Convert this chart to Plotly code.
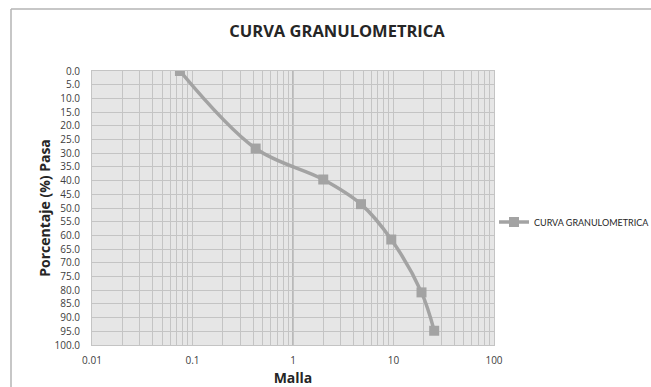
import plotly.graph_objects as go

malla = [0.075, 0.425, 2.0, 4.75, 9.5, 19.0, 25.4]
pasa = [0.0, 28.3, 39.6, 48.6, 61.5, 80.8, 94.8]
serie = "CURVA GRANULOMETRICA"
titulo = "CURVA GRANULOMETRICA"
y_ticks = [i * 5.0 for i in range(21)]
x_ticks = [0.01, 0.1, 1, 10, 100]
x_labels = ["0.01", "0.1", "1", "10", "100"]

FONT = "Open Sans"
fig = go.Figure()
fig.add_trace(go.Scatter(
    x=malla, y=pasa, mode="lines+markers", name=serie,
    line=dict(color="#a3a3a3", width=3.5, shape="spline", smoothing=1.0),
    marker=dict(symbol="square", size=10, color="#a3a3a3"),
))

L, R, T, B = 92, 157, 71, 42
W, H = 651, 387
pw, ph = W - L - R, H - T - B

fig.update_layout(
    width=W, height=H,
    margin=dict(l=L, r=R, t=T, b=B, autoexpand=False),
    paper_bgcolor="white", plot_bgcolor="#e6e6e6",
    font=dict(family=FONT, color="#404040", size=10),
    title=dict(text="<b>" + titulo + "</b>", x=337 / W, xref="container", xanchor="center",
               y=1 - 31 / H, yref="container", yanchor="middle",
               font=dict(size=16.5, color="#262626", family=FONT)),
    showlegend=True,
    legend=dict(x=(494 - L) / pw, xanchor="left", y=(H - B - 222) / ph, yanchor="middle",
                itemwidth=30,
                font=dict(size=9, color="#262626", family="Lato"), bgcolor="rgba(0,0,0,0)"),
    xaxis=dict(type="log", range=[-2, 2], tickvals=x_ticks, ticktext=x_labels,
               showgrid=True, gridcolor="#c4c4c4", gridwidth=1,
               minor=dict(dtick="D1", showgrid=True, gridcolor="#c4c4c4", gridwidth=1, ticks=""),
               showline=True, linecolor="#c4c4c4", mirror=True, ticks="",
               ticklabelstandoff=6,
               title=dict(text="<b>Malla</b>", font=dict(size=14, color="#262626"), standoff=10),
               tickfont=dict(size=10)),
    yaxis=dict(range=[100, 0], tickvals=y_ticks, tickformat=".1f",
               showgrid=True, gridcolor="#c4c4c4", gridwidth=1,
               showline=True, linecolor="#c4c4c4", mirror=True, ticks="", zeroline=False,
               ticklabelstandoff=9,
               title=dict(text="<b>Porcentaje (%) Pasa</b>", font=dict(size=14, color="#262626"), standoff=0),
               tickfont=dict(size=10)),
)

# vertical axis line crossing at x = 1
fig.add_shape(type="line", xref="x", yref="paper", x0=1, x1=1, y0=0, y1=1,
              line=dict(color="#8c8c8c", width=1), layer="below")
# chart area border (top and left edges)
fig.add_shape(type="line", xref="paper", yref="paper",
              x0=(11 - L) / pw, x1=(W + 5 - L) / pw, y0=(H - B - 9) / ph, y1=(H - B - 9) / ph,
              line=dict(color="#b5b5b5", width=1.5))
fig.add_shape(type="line", xref="paper", yref="paper",
              x0=(11 - L) / pw, x1=(11 - L) / pw, y0=(H - B - 9) / ph, y1=-(B + 5) / ph,
              line=dict(color="#b5b5b5", width=1.5))

fig.write_html("out.html")
